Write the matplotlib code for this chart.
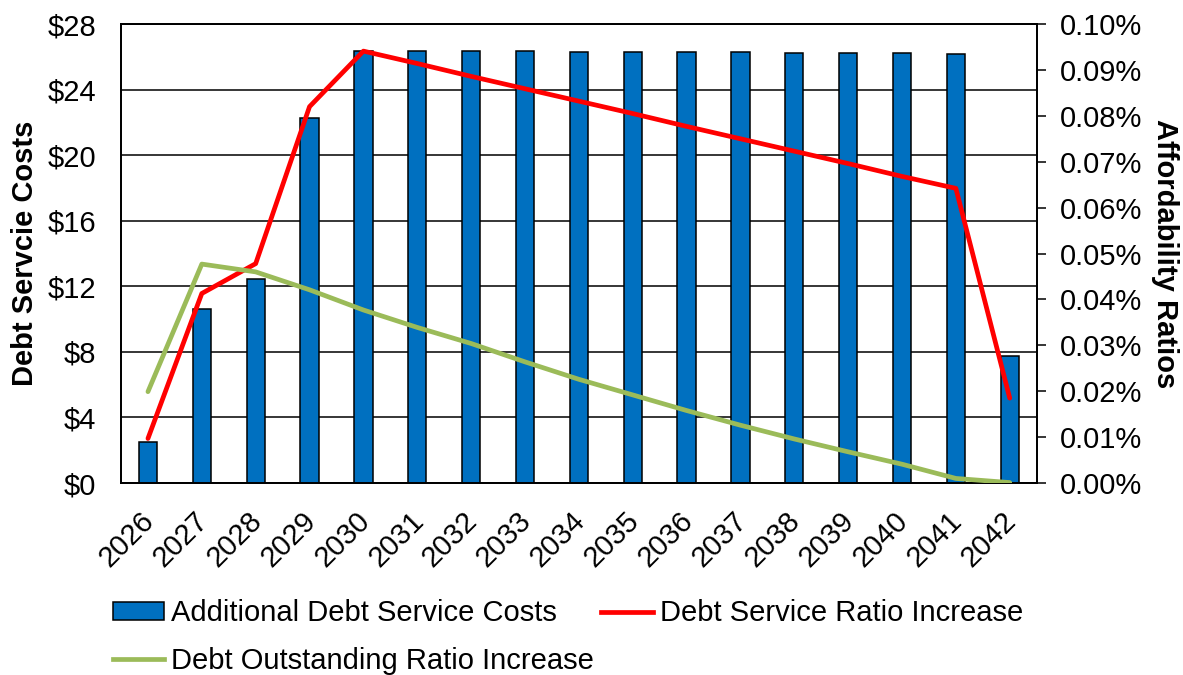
import matplotlib
matplotlib.use("Agg")
import matplotlib.pyplot as plt
from matplotlib.ticker import FuncFormatter, MultipleLocator
from matplotlib.patches import Patch
from matplotlib.lines import Line2D
from matplotlib.transforms import ScaledTranslation

plt.rcParams['font.family'] = ['Liberation Sans', 'DejaVu Sans']

years = ['2026', '2027', '2028', '2029', '2030', '2031', '2032', '2033', '2034',
         '2035', '2036', '2037', '2038', '2039', '2040', '2041', '2042']
debt_service_costs = [2.48, 10.61, 12.46, 22.25, 26.37, 26.36, 26.34, 26.33, 26.32,
                      26.30, 26.28, 26.27, 26.25, 26.24, 26.22, 26.20, 7.77]
debt_service_ratio = [0.0097, 0.0413, 0.0478, 0.0820, 0.0941, 0.0914, 0.0886, 0.0859,
                      0.0832, 0.0805, 0.0777, 0.0750, 0.0723, 0.0696, 0.0668, 0.0642, 0.0185]
debt_outstanding_ratio = [0.0199, 0.0477, 0.0460, 0.0421, 0.0377, 0.0339, 0.0304, 0.0264,
                          0.0226, 0.0192, 0.0158, 0.0126, 0.0096, 0.0068, 0.0041, 0.0010, 0.0001]

BAR_C = '#0070C0'
RED_C = '#FF0000'
GREEN_C = '#9BBB59'
FS = 21

fig = plt.figure(figsize=(11.83, 6.75), dpi=100)
ax = fig.add_axes([0.1023, 0.2844, 0.7740, 0.6800])
ax2 = ax.twinx()

x = list(range(len(years)))
ax.bar(x, debt_service_costs, width=0.34, color=BAR_C, edgecolor='black', linewidth=1.1, zorder=3)
ax.set_xlim(-0.5, len(years) - 0.5)
ax.set_ylim(0, 28)
ax.yaxis.set_major_locator(MultipleLocator(4))
ax.yaxis.set_major_formatter(FuncFormatter(lambda v, p: f"${v:.0f}"))
ax.grid(axis='y', color='black', linewidth=1.1, zorder=0)
ax.set_axisbelow(True)
ax.set_xticks(x)
ax.set_xticklabels(years, rotation=45, ha='right', va='top', rotation_mode='anchor')
ax.tick_params(axis='x', length=0, pad=12, labelsize=FS)
ax.tick_params(axis='y', length=0, pad=18, labelsize=FS)
ax.set_ylabel('Debt Servcie Costs', fontsize=21, fontweight='bold', labelpad=6)

ax2.plot(x, debt_service_ratio, color=RED_C, linewidth=3.4, solid_capstyle='round', zorder=4)
ax2.plot(x, debt_outstanding_ratio, color=GREEN_C, linewidth=3.4, solid_capstyle='round', zorder=5)
ax2.set_ylim(0, 0.10)
ax2.yaxis.set_major_locator(MultipleLocator(0.01))
ax2.yaxis.set_major_formatter(FuncFormatter(lambda v, p: f"{v:.2f}%"))
ax2.tick_params(axis='y', direction='out', length=6.5, width=1.1, pad=10, labelsize=FS)
ax2.set_ylabel('Affordability Ratios', fontsize=21, fontweight='bold', rotation=270, labelpad=27)

for a in (ax, ax2):
    for s in a.spines.values():
        s.set_linewidth(1.3)
        s.set_color('black')

offset = ScaledTranslation(-0.08, -0.07, fig.dpi_scale_trans)
for lab in ax.xaxis.get_majorticklabels():
    lab.set_transform(lab.get_transform() + offset)

handles = [Patch(facecolor=BAR_C, edgecolor='black', linewidth=1.1),
           Line2D([0], [0], color=GREEN_C, linewidth=3.4),
           Line2D([0], [0], color=RED_C, linewidth=3.4)]
labels = ['Additional Debt Service Costs', 'Debt Outstanding Ratio Increase',
          'Debt Service Ratio Increase']
fig.legend(handles, labels, loc='upper left', bbox_to_anchor=(0.0955, 0.112),
           ncol=2, frameon=False, fontsize=FS, handlelength=1.75, handleheight=0.55,
           handletextpad=0.25, columnspacing=0.25, labelspacing=0.66,
           borderaxespad=0, borderpad=0)

fig.savefig('out.png', dpi=100)
